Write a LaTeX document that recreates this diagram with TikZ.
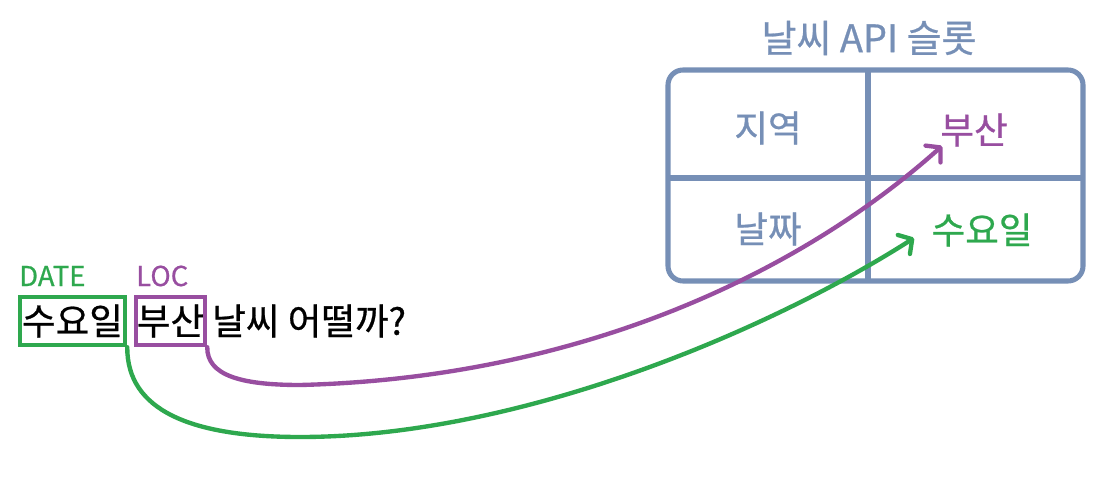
\documentclass[tikz,border=0pt]{standalone}
\usepackage{fontspec}
\setmainfont[FakeBold=0.7]{Noto Sans CJK KR}
\usetikzlibrary{arrows.meta}
\newlength{\px}\setlength{\px}{0.025cm}
\definecolor{slate}{RGB}{118,143,182}
\definecolor{dgreen}{RGB}{46,168,78}
\definecolor{dpurple}{RGB}{152,78,160}
\begin{document}
\begin{tikzpicture}[x=1\px, y=-1\px,
  tbl/.style={draw=slate, line width=3.6pt},
  celltxt/.style={text=slate, font=\fontsize{26}{29}\selectfont, inner sep=0pt},
  wordbox/.style={draw, line width=3.2pt, inner sep=0pt, minimum height=48\px, font=\fontsize{26}{29}\selectfont},
  tag/.style={inner sep=0pt, anchor=west, font=\fontsize{19.5}{22}\selectfont},
  arr/.style={line width=3.1pt, line cap=round, -{Straight Barb[length=7pt,width=16pt,line cap=round,line join=round]}}]
\useasboundingbox (0,0) rectangle (1116,484);
% table
\node[tbl, rounded corners=15\px, minimum width=415\px, minimum height=211\px, inner sep=0pt] (slots) at (875.5,175.5) {};
\coordinate (vtop) at (868,70);
\coordinate (vbot) at (868,281);
\coordinate (hl) at (668,178);
\coordinate (hr) at (1083,178);
\draw[tbl] (vtop) -- (vbot);
\draw[tbl] (hl) -- (hr);
\node[celltxt, font=\fontsize{27}{30}\selectfont] (title) at (869,38) {날씨 API 슬롯};
\node[celltxt] (region) at (768,128) {지역};
\node[celltxt, text=dpurple] (busan2) at (974,130) {부산};
\node[celltxt] (date2) at (768,229) {날짜};
\node[celltxt, text=dgreen] (wed2) at (982,230) {수요일};
% sentence
\node[wordbox, draw=dgreen, minimum width=105\px] (wed) at (72.5,321) {수요일};
\node[wordbox, draw=dpurple, minimum width=69\px] (busan) at (170.5,321) {부산};
\node[inner sep=0pt, anchor=west, font=\fontsize{26}{29}\selectfont] (rest) at (212,321) {날씨 어떨까?};
\node[tag, text=dgreen] (datetag) at (19,276) {DATE};
\node[tag, text=dpurple] (loctag) at (136,276) {LOC};
% arrows
\coordinate (ptip) at (942,146);
\coordinate (gtip) at (914,238);
\draw[arr, dpurple] (busan.south east) .. controls (207,375) and (240,385) .. (300,385)
  .. controls (580,378) and (800,273) .. (ptip);
\draw[arr, dgreen] (wed.south east) .. controls (127,410) and (190,437) .. (300,437)
  .. controls (520,437) and (770,330) .. (gtip);
\end{tikzpicture}
\end{document}
